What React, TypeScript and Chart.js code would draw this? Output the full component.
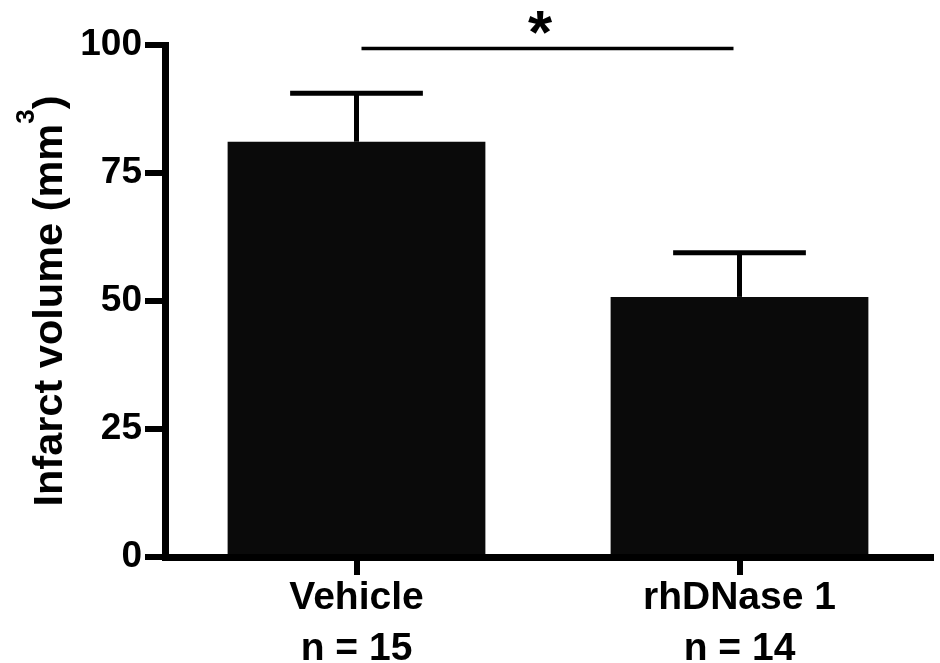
import React, { useEffect, useRef } from "react";
import { Chart, registerables } from "chart.js";

Chart.register(...registerables);

// ---- data ----
const categories: string[][] = [["Vehicle", "n = 15"], ["rhDNase 1", "n = 14"]];
const means: number[] = [81.1, 50.8];
const errorTops: number[] = [90.6, 59.4];
const yTickValues: number[] = [0, 25, 50, 75, 100];
const sigPair: number[] = [0, 1];
const sigLevel = 99.3;
const sigLabel = "*";
const yTitleParts: string[] = ["Infarct volume (mm", "3", ")"];

const FONT = '"Liberation Sans", Arial, Helvetica, sans-serif';

const annotatePlugin = {
  id: "annotate",
  afterDatasetsDraw(chart: any) {
    const ctx = chart.ctx as CanvasRenderingContext2D;
    const meta = chart.getDatasetMeta(0);
    const y = chart.scales.y;
    ctx.save();
    ctx.strokeStyle = "#000";
    ctx.lineCap = "butt";
    meta.data.forEach((bar: any, i: number) => {
      const top = y.getPixelForValue(errorTops[i]);
      const capW = bar.width * 0.515;
      ctx.lineWidth = 5;
      ctx.beginPath();
      ctx.moveTo(bar.x, bar.y);
      ctx.lineTo(bar.x, top);
      ctx.stroke();
      ctx.beginPath();
      ctx.moveTo(bar.x - capW / 2, top);
      ctx.lineTo(bar.x + capW / 2, top);
      ctx.stroke();
    });
    // significance line
    const b0 = meta.data[sigPair[0]];
    const b1 = meta.data[sigPair[1]];
    const sy = y.getPixelForValue(sigLevel);
    const x0 = b0.x + 5;
    const x1 = b1.x - 6;
    ctx.lineWidth = 3.5;
    ctx.beginPath();
    ctx.moveTo(x0, sy);
    ctx.lineTo(x1, sy);
    ctx.stroke();
    // asterisk
    ctx.fillStyle = "#000";
    ctx.font = `bold 62px ${FONT}`;
    ctx.textAlign = "center";
    ctx.textBaseline = "alphabetic";
    const m = ctx.measureText(sigLabel);
    const A = m.actualBoundingBoxAscent;
    const D = m.actualBoundingBoxDescent;
    const cy = sy - 26;
    const ax = x0 + (x1 - x0) * 0.48;
    ctx.fillText(sigLabel, ax, cy + (A - D) / 2);
    ctx.restore();
  },
  afterDraw(chart: any) {
    const ctx = chart.ctx as CanvasRenderingContext2D;
    const area = chart.chartArea;
    ctx.save();
    ctx.fillStyle = "#000";
    const mainFont = `bold 41.5px ${FONT}`;
    const supFont = `bold 26px ${FONT}`;
    ctx.font = mainFont;
    const w0 = ctx.measureText(yTitleParts[0]).width;
    const w2 = ctx.measureText(yTitleParts[2]).width;
    ctx.font = supFont;
    const w1 = ctx.measureText(yTitleParts[1]).width;
    const total = w0 + w1 + w2;
    const cy = (area.top + area.bottom) / 2;
    ctx.translate(62, cy);
    ctx.rotate(-Math.PI / 2);
    ctx.textBaseline = "alphabetic";
    ctx.textAlign = "left";
    let x = -total / 2;
    ctx.font = mainFont;
    ctx.fillText(yTitleParts[0], x, 0);
    x += w0;
    ctx.font = supFont;
    ctx.fillText(yTitleParts[1], x, -28);
    x += w1;
    ctx.font = mainFont;
    ctx.fillText(yTitleParts[2], x, 0);
    ctx.restore();
  },
};

export default function App() {
  const ref = useRef<HTMLCanvasElement | null>(null);
  useEffect(() => {
    if (!ref.current) return;
    const chart = new Chart(ref.current, {
      type: "bar",
      data: {
        labels: categories,
        datasets: [
          {
            data: means,
            backgroundColor: "#0a0a0a",
            borderWidth: 0,
            categoryPercentage: 1,
            barPercentage: 0.673,
          },
        ],
      },
      options: {
        animation: false,
        responsive: true,
        maintainAspectRatio: false,
        layout: { padding: { top: 45, right: 9, left: 0, bottom: 0 } },
        plugins: {
          legend: { display: false },
          tooltip: { enabled: false },
        },
        scales: {
          x: {
            offset: true,
            grid: {
              offset: false,
              drawOnChartArea: false,
              drawTicks: true,
              tickLength: 18,
              tickWidth: 6,
              lineWidth: 6,
              color: "#000",
            },
            border: { display: true, color: "#000", width: 7 },
            ticks: {
              color: "#000",
              padding: -2,
              font: { family: FONT, size: 39, weight: "bold", lineHeight: 1.3 },
              maxRotation: 0,
              autoSkip: false,
            },
            afterFit(scale: any) {
              scale.height = 106;
            },
          },
          y: {
            min: 0,
            max: 100,
            afterBuildTicks(scale: any) {
              scale.ticks = yTickValues.map((v) => ({ value: v }));
            },
            grid: {
              drawOnChartArea: false,
              drawTicks: true,
              tickLength: 20,
              tickWidth: 6,
              lineWidth: 6,
              color: "#000",
            },
            border: { display: true, color: "#000", width: 7 },
            ticks: {
              color: "#000",
              padding: 3,
              font: { family: FONT, size: 37, weight: "bold" },
            },
            afterFit(scale: any) {
              scale.width = 165;
            },
          },
        },
      },
      plugins: [annotatePlugin],
    });
    return () => chart.destroy();
  }, []);
  return (
    <div style={{ position: "fixed", left: 0, top: 0, width: 940, height: 663, background: "#fff" }}>
      <canvas ref={ref} />
    </div>
  );
}
